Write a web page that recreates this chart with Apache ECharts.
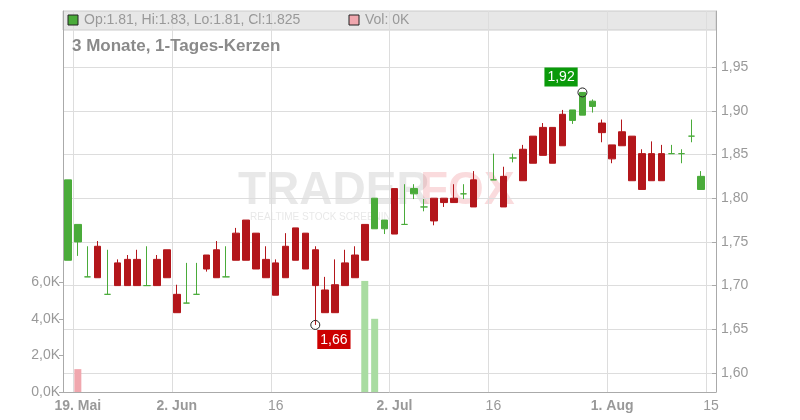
<!DOCTYPE html>
<html><head><meta charset="utf-8">
<script src="https://cdn.jsdelivr.net/npm/echarts@6/dist/echarts.min.js"></script>
<style>html,body{margin:0;padding:0;background:#fff}#c{width:800px;height:420px}</style>
</head><body><div id="c"></div>
<script>
const dates = ['16.05','19.05','20.05','21.05','22.05','23.05','26.05','27.05','28.05','29.05','30.05',
'02.06','03.06','04.06','05.06','06.06','09.06','10.06','11.06','12.06','13.06',
'16.06','17.06','18.06','19.06','20.06','23.06','24.06','25.06','26.06','27.06',
'30.06','01.07','02.07','03.07','04.07','07.07','08.07','09.07','10.07','11.07',
'14.07','15.07','16.07','17.07','18.07','21.07','22.07','23.07','24.07','25.07',
'28.07','29.07','30.07','31.07','01.08','04.08','05.08','06.08','07.08','08.08',
'11.08','12.08','13.08','14.08','15.08'];
const tickLabels = {'19.05':'19. Mai','02.06':'2. Jun','16.06':'16','02.07':'2. Jul','16.07':'16','01.08':'1. Aug','15.08':'15'};
const openV  = [1.729,1.750,1.710,1.745,1.690,1.726,1.730,1.730,1.700,1.730,1.741,1.690,1.680,1.690,1.735,1.741,1.710,1.760,1.775,1.760,1.730,1.726,1.745,1.766,1.760,1.741,1.695,1.701,1.726,1.735,1.770,1.765,1.765,1.811,1.770,1.805,1.790,1.800,1.800,1.800,1.805,1.821,null,1.821,1.825,1.846,1.856,1.871,1.881,1.881,1.896,1.889,1.895,1.905,1.886,1.861,1.876,1.871,1.851,1.851,1.851,1.851,1.851,1.871,1.810,null];
const closeV = [1.821,1.770,1.710,1.709,1.690,1.700,1.700,1.700,1.700,1.700,1.709,1.669,1.680,1.690,1.719,1.709,1.710,1.729,1.729,1.719,1.709,1.689,1.709,1.729,1.719,1.700,1.669,1.669,1.700,1.709,1.729,1.800,1.775,1.759,1.770,1.811,1.790,1.774,1.795,1.795,1.805,1.790,null,1.821,1.790,1.846,1.820,1.840,1.849,1.840,1.860,1.901,1.921,1.911,1.875,1.845,1.860,1.820,1.810,1.820,1.820,1.851,1.851,1.871,1.825,null];
const lowV   = [1.729,1.734,1.710,1.709,1.690,1.700,1.700,1.700,1.700,1.700,1.709,1.669,1.680,1.690,1.716,1.709,1.710,1.729,1.729,1.719,1.709,1.689,1.709,1.729,1.719,1.655,1.669,1.669,1.700,1.709,1.729,1.765,1.759,1.759,1.770,1.799,1.785,1.769,1.790,1.795,1.799,1.790,null,1.821,1.790,1.841,1.820,1.840,1.849,1.840,1.860,1.885,1.895,1.898,1.864,1.840,1.860,1.820,1.810,1.820,1.820,1.851,1.840,1.864,1.810,null];
const highV  = [1.821,1.770,1.745,1.751,1.741,1.730,1.735,1.741,1.745,1.735,1.741,1.701,1.726,1.726,1.735,1.751,1.745,1.766,1.775,1.760,1.745,1.730,1.760,1.766,1.760,1.745,1.710,1.730,1.741,1.745,1.770,1.800,1.775,1.811,1.816,1.816,1.799,1.800,1.800,1.816,1.816,1.831,null,1.851,1.836,1.851,1.861,1.871,1.886,1.881,1.901,1.901,1.921,1.913,1.890,1.861,1.890,1.871,1.856,1.865,1.861,1.861,1.856,1.890,1.831,null];
const volumeK = [0,1.25,0,0,0,0,0,0,0,0,0,0,0,0,0,0,0,0,0,0,0,0,0,0,0,0,0,0,0,0,6.07,4.0,0,0,0,0,0,0,0,0,0,0,0,0,0,0,0,0,0,0,0,0,0,0,0,0,0,0,0,0,0,0,0,0,0,0];
const priceTicks = [1.60,1.65,1.70,1.75,1.80,1.85,1.90,1.95];
const volTicks = [0,2,4,6];

const UP='#4aab3a', DOWN='#b3161b', VUP='#a9dca1', VDOWN='#f0a7ae', TXT='#999';
const FF='Liberation Sans, Arial';
const candleData = dates.map((d,i)=>{
  if(openV[i]==null) return '-';
  const item={value:[openV[i],closeV[i],lowV[i],highV[i]]};
  if(openV[i]===closeV[i]) item.itemStyle={color:UP,borderColor:UP,color0:UP,borderColor0:UP};
  return item;
});
const volData = volumeK.map((v,i)=>{
  let prev=null; for(let j=i-1;j>=0;j--){ if(closeV[j]!=null){prev=closeV[j];break;} }
  const up = prev==null || closeV[i]==null || closeV[i]>=prev;
  return {value:v,itemStyle:{color: up?VUP:VDOWN}};
});
let hiI=0, loI=0;
highV.forEach((v,i)=>{ if(v!=null && v>highV[hiI]) hiI=i; });
lowV.forEach((v,i)=>{ if(v!=null && v<lowV[loI]) loI=i; });
const fmt2 = v=>v.toFixed(2).replace('.',',');
const labelIdx = new Set(Object.keys(tickLabels).map(k=>dates.indexOf(k)));
const G={left:63,right:84,top:11,bottom:28};
const pMin=1.60-(392-373)/874, pMax=1.60+(373-11)/874;

const chart=echarts.init(document.getElementById('c'),null,{renderer:'canvas'});
chart.setOption({
  animation:false,
  grid:G,
  xAxis:{type:'category',data:dates,boundaryGap:true,
    axisLine:{lineStyle:{color:'#aaa'}},
    axisTick:{alignWithLabel:true,interval:(i)=>labelIdx.has(i),length:4,lineStyle:{color:'#aaa'}},
    splitLine:{show:true,interval:(i)=>labelIdx.has(i),lineStyle:{color:'#ddd'}},
    axisLabel:{interval:(i)=>labelIdx.has(i),margin:7,
      formatter:(v)=>{const t=tickLabels[v]||''; return /\./.test(t)?'{b|'+t+'}':'{n|'+t+'}';},
      rich:{b:{fontWeight:'bold',fontSize:14,color:TXT,fontFamily:FF},n:{fontSize:14,color:TXT,fontFamily:FF}}}
  },
  yAxis:[
    {type:'value',position:'right',min:pMin,max:pMax,
      axisLine:{show:true,lineStyle:{color:'#aaa'}},
      axisTick:{show:true,customValues:priceTicks,length:4,inside:true,lineStyle:{color:'#aaa'}},
      axisLabel:{customValues:priceTicks,formatter:fmt2,color:TXT,fontSize:14,margin:5,fontFamily:FF},
      splitLine:{show:true,lineStyle:{color:'#ddd'}}},
    {type:'value',position:'left',min:0,max:(392-11)/18.3,
      axisLine:{show:true,lineStyle:{color:'#aaa'}},
      axisTick:{show:true,customValues:volTicks,length:4,lineStyle:{color:'#aaa'}},
      axisLabel:{customValues:volTicks,formatter:v=>v.toFixed(1).replace('.',',')+'K',color:TXT,fontSize:14,margin:3,fontFamily:FF},
      splitLine:{show:false}}
  ],
  graphic:[
    {type:'rect',shape:{x:63,y:11,width:653,height:19},style:{fill:'rgba(215,215,215,0.6)',stroke:'#ccc'},z:-10,silent:true},
    {type:'rect',shape:{x:68,y:15,width:10,height:10},style:{fill:UP,stroke:'#222',lineWidth:1},z:10},
    {type:'text',x:84,y:13,style:{text:'Op:1.81, Hi:1.83, Lo:1.81, Cl:1.825',fill:TXT,font:'14px '+FF},z:10},
    {type:'rect',shape:{x:349,y:15,width:10,height:10},style:{fill:VDOWN,stroke:'#222',lineWidth:1},z:10},
    {type:'text',x:365,y:13,style:{text:'Vol: 0K',fill:TXT,font:'14px '+FF},z:10},
    {type:'text',x:72,y:38,style:{text:'3 Monate, 1-Tages-Kerzen',fill:'#8a8a8a',font:'bold 17px '+FF},z:10},
    {type:'text',x:238,y:168,style:{text:'TRADER',fill:'rgba(150,150,150,0.22)',font:'bold 46px '+FF},z:-5},
    {type:'text',x:420,y:168,style:{text:'FOX',fill:'rgba(230,90,100,0.22)',font:'bold 46px '+FF},z:-5},
    {type:'text',x:250,y:212,style:{text:'REALTIME STOCK SCREENING',fill:'rgba(150,150,150,0.22)',font:'10px '+FF},z:-5}
  ],
  series:[
    {type:'bar',xAxisIndex:0,yAxisIndex:1,data:volData,barWidth:7,z:1},
    {type:'candlestick',xAxisIndex:0,yAxisIndex:0,data:candleData,barWidth:7,z:3,
      itemStyle:{color:UP,color0:DOWN,borderColor:UP,borderColor0:DOWN,borderWidth:1},
      markPoint:{symbol:'circle',symbolSize:9,animation:false,
        itemStyle:{color:'rgba(255,255,255,0)',borderColor:'#222',borderWidth:1},
        data:[
          {coord:[hiI,highV[hiI]],label:{show:true,formatter:fmt2(highV[hiI]),position:[-33,-20],backgroundColor:'#0a9a0a',color:'#fff',padding:[3,3,2,3],fontSize:14,fontFamily:FF}},
          {coord:[loI,lowV[loI]],label:{show:true,formatter:'1,66',position:[7,10],backgroundColor:'#cc0000',color:'#fff',padding:[3,3,2,3],fontSize:14,fontFamily:FF}}
        ]}}
  ]
});
</script></body></html>
